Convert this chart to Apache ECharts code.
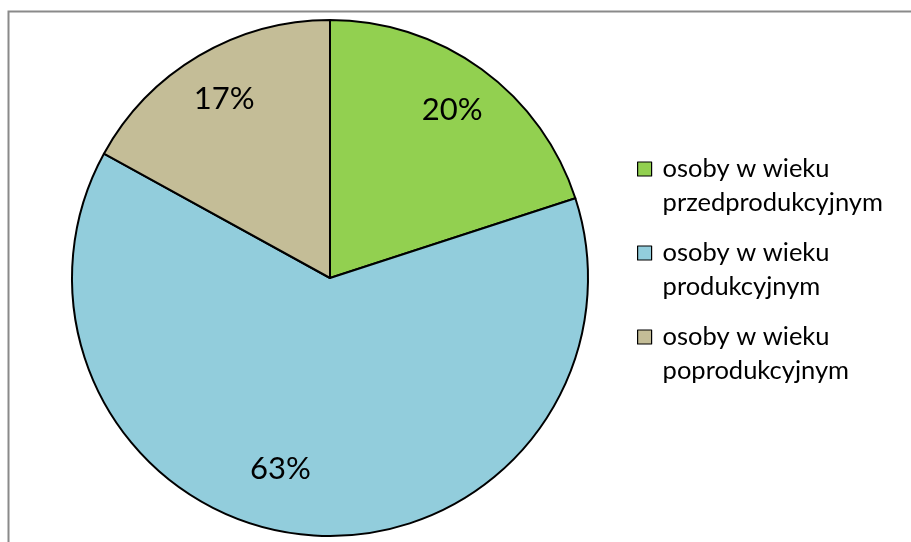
<!DOCTYPE html>
<html>
<head>
<meta charset="utf-8">
<script src="https://cdn.jsdelivr.net/npm/echarts@6/dist/echarts.min.js"></script>
<style>
html,body{margin:0;padding:0;background:#fff;}
#chart{width:911px;height:542px;}
</style>
</head>
<body>
<div id="chart"></div>
<script>
const categories = [
  'osoby w wieku przedprodukcyjnym',
  'osoby w wieku produkcyjnym',
  'osoby w wieku poprodukcyjnym'
];
const values = [20, 63, 17];
const colors = ['#92D050', '#92CDDC', '#C4BD97'];

const FONT = 'Lato, "Liberation Sans", sans-serif';
const chart = echarts.init(document.getElementById('chart'));

const pieData = categories.map((n, i) => ({
  name: n, value: values[i], itemStyle: { color: colors[i] }
}));
const labelData = categories.map((n, i) => {
  const d = { name: n, value: values[i] };
  if (i === 1) d.label = { offset: [-30, -16] };
  return d;
});

chart.setOption({
  animation: false,
  graphic: [{
    type: 'rect', silent: true, z: -10,
    shape: { x: 8.5, y: 11.5, width: 1200, height: 1200 },
    style: { fill: 'none', stroke: '#8a8a8a', lineWidth: 2 }
  }],
  legend: {
    orient: 'vertical',
    left: 632, top: 113,
    itemWidth: 14, itemHeight: 14,
    itemGap: -18,
    icon: 'rect',
    data: categories.map((n, i) => ({ name: n, itemStyle: { color: colors[i], borderColor: '#000', borderWidth: 1.2 } })),
    formatter: n => '\n' + n.replace('wieku ', 'wieku\n'),
    textStyle: { fontFamily: FONT, fontSize: 25.5, lineHeight: 34, color: '#000', padding: [0, 0, 0, 6] }
  },
  series: [{
    type: 'pie',
    center: [330, 278],
    radius: 258,
    startAngle: 90,
    clockwise: true,
    silent: true,
    data: pieData,
    itemStyle: { borderColor: '#000', borderWidth: 2 },
    label: { show: false },
    labelLine: { show: false }
  }, {
    type: 'pie',
    center: [330, 278],
    radius: 410,
    startAngle: 90,
    clockwise: true,
    silent: true,
    data: labelData,
    itemStyle: { color: 'rgba(0,0,0,0)', borderWidth: 0 },
    label: { show: true, position: 'inside', formatter: '{d}%', fontFamily: FONT, fontSize: 31, color: '#000' },
    labelLine: { show: false }
  }]
});
</script>
</body>
</html>
